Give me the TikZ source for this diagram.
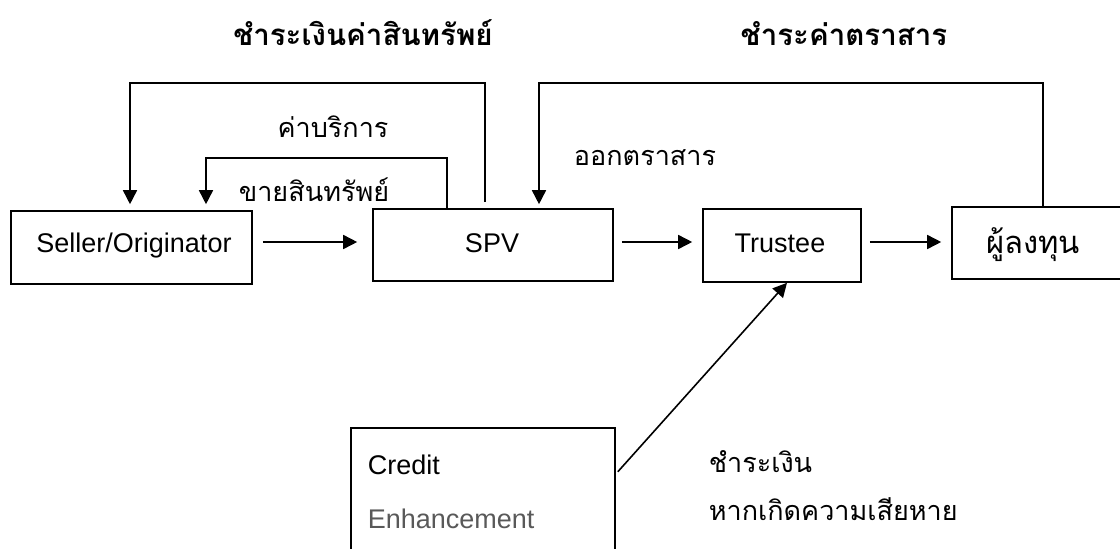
\documentclass[tikz,border=0pt]{standalone}
\usepackage{fontspec}
\setmainfont{Liberation Sans}
\newfontfamily\thaifont[Script=Thai]{Loma}
\usetikzlibrary{arrows.meta}
\begin{document}
\begin{tikzpicture}[x=1pt,y=-1pt,
  line width=1.6pt,
  box/.style={draw, rectangle, inner sep=0pt},
  lat/.style={font=\fontsize{27}{32}\selectfont, inner sep=0pt},
  th/.style={font=\thaifont\fontsize{27}{32}\selectfont, inner sep=0pt},
  thbig/.style={font=\thaifont\fontsize{31}{36}\selectfont, inner sep=0pt},
  thb/.style={font=\thaifont\bfseries\fontsize{29.5}{34}\selectfont, inner sep=0pt},
  arr/.style={-{Triangle[length=14pt,width=14pt]}},
]
\useasboundingbox (0,0) rectangle (1120,549);
\clip (0,0) rectangle (1120,549);
% boxes
\node[box, minimum width=241pt, minimum height=73pt] (seller) at (131.5,247.5) {};
\node[box, minimum width=240pt, minimum height=72pt] (spv) at (493,245) {};
\node[box, minimum width=158pt, minimum height=73pt] (trustee) at (782,245.5) {};
\node[box, minimum width=188pt, minimum height=72pt] (inv) at (1046,243) {};
\node[box, minimum width=264pt, minimum height=152pt] (cebox) at (483,504) {};
% box texts
\node[lat, anchor=base] (sellert) at (134,252) {Seller/Originator};
\node[lat, anchor=base] (spvt) at (492,252) {SPV};
\node[lat, anchor=base] (trusteet) at (780,252) {Trustee};
\node[thbig, anchor=base] (invt) at (1033,253) {ผู้ลงทุน};
\node[lat, anchor=base west] (ce1) at (367,474) {Credit};
\node[lat, anchor=base west, text=black!65] (ce2) at (367,528) {Enhancement};
% titles and labels
\node[thb, anchor=base] (t1) at (363,45) {ชำระเงินค่าสินทรัพย์};
\node[thb, anchor=base] (t2) at (844,45) {ชำระค่าตราสาร};
\node[th, anchor=base] (lfee) at (333,137) {ค่าบริการ};
\node[th, anchor=base] (lsale) at (314,201) {ขายสินทรัพย์};
\node[th, anchor=base] (liss) at (645,165) {ออกตราสาร};
\node[th, anchor=base west] (lpay1) at (708,472) {ชำระเงิน};
\node[th, anchor=base west] (lpay2) at (708,520) {หากเกิดความเสียหาย};
% coordinates
\coordinate (rowy) at (0,242);
\coordinate (feeR) at (485,83);
\coordinate (feeL) at (130,83);
\coordinate (saleR) at (447,158);
\coordinate (saleL) at (206,158);
\coordinate (issR) at (1043,83);
\coordinate (issL) at (539,83);
\coordinate (ceOut) at (618,474);
\coordinate (trIn) at (787,283);
% connectors
\draw[arr, shorten <=10pt, shorten >=15pt] (seller.east |- rowy) -- (spv.west |- rowy);
\draw[arr, shorten <=8pt, shorten >=10pt] (spv.east |- rowy) -- (trustee.west |- rowy);
\draw[arr, shorten <=8pt, shorten >=10pt] (trustee.east |- rowy) -- (inv.west |- rowy);
\draw[arr, shorten <=6pt, shorten >=6pt] (spv.north -| feeR) -- (feeR) -- (feeL) -- (seller.north -| feeL);
\draw[arr, shorten >=6pt] (spv.north -| saleR) -- (saleR) -- (saleL) -- (seller.north -| saleL);
\draw[arr, shorten >=4pt] (inv.north -| issR) -- (issR) -- (issL) -- (spv.north -| issL);
\draw[arr, shorten <=3pt] (cebox.east |- ceOut) -- (trustee.south -| trIn);
\end{tikzpicture}
\end{document}
